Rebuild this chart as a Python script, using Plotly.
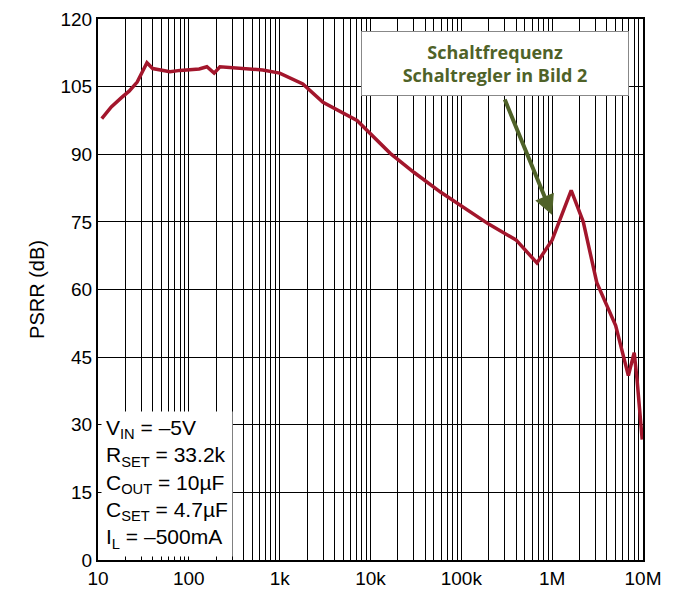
import plotly.graph_objects as go
import numpy as np

freq = [11, 14, 18, 22, 27, 34.6, 40, 50, 62, 80, 100, 130, 158, 190, 220, 300, 400, 650, 1000, 1800, 3000,
        7100, 16500, 30000, 60000, 100000, 200000, 400000, 680000, 1000000, 1620000, 2200000, 3100000,
        5000000, 6900000, 8000000, 8600000, 9800000]
psrr = [97.9, 100.5, 102.5, 104, 106, 110.3, 109, 108.7, 108.3, 108.6, 108.7, 108.9, 109.4, 108, 109.4, 109.2, 109.1, 108.7,
        108, 105.6, 101.5, 97.5, 90.2, 86, 81.5, 78.5, 74.5, 71, 65.9, 71, 82, 75, 61.5, 52, 40.9, 46, 40, 26.7]

xticks = [10, 100, 1e3, 1e4, 1e5, 1e6, 1e7]
xlabels = ["10", "100", "1k", "10k", "100k", "1M", "10M"]
yticks = [0, 15, 30, 45, 60, 75, 90, 105, 120]

fig = go.Figure()
fig.add_trace(go.Scatter(x=freq, y=psrr, mode="lines", line=dict(color="#a3162c", width=3.5), showlegend=False))

minor = [m * 10**d for d in range(1, 7) for m in range(2, 10)]
fig.update_xaxes(type="log", range=[1, 7], tickvals=xticks, ticktext=xlabels, automargin=False,
                 showgrid=True, gridcolor="black", gridwidth=1.3,
                 minor=dict(tickvals=minor, showgrid=True, gridcolor="black", gridwidth=1, ticks=""),
                 showline=True, linecolor="black", linewidth=2, mirror=True,
                 tickfont=dict(size=19, color="black"), ticks="")
fig.update_yaxes(range=[0, 120], tickvals=yticks, showgrid=True, gridcolor="black", gridwidth=1.3, automargin=False,
                 showline=True, linecolor="black", linewidth=2, mirror=True, zeroline=False,
                 tickfont=dict(size=19, color="black"), ticks="",
                 title=dict(text="PSRR (dB)", font=dict(size=20, color="black"), standoff=10))

fig.add_annotation(x=np.log10(1e6), y=76.5, xref="x", yref="y", ax=-48, ay=-117, axref="pixel", ayref="pixel",
                   text="", showarrow=True, arrowhead=2, arrowsize=1, arrowwidth=4, arrowcolor="#4f6228")

fig.add_annotation(x=(495-98)/545, y=1 - (60-15)/543, xref="paper", yref="paper", xanchor="center", yanchor="middle",
                   text="<b>Schaltfrequenz<br>Schaltregler in Bild 2</b>", showarrow=False,
                   font=dict(size=18, color="#4f6228", family="Open Sans"), bgcolor="white",
                   bordercolor="#888888", borderwidth=1, borderpad=8, width=250, align="center")

fig.add_annotation(x=0.005, y=0.005, xref="paper", yref="paper", xanchor="left", yanchor="bottom",
                   text="V<sub>IN</sub> = –5V<br>R<sub>SET</sub> = 33.2k<br>C<sub>OUT</sub> = 10µF<br>C<sub>SET</sub> = 4.7µF<br>I<sub>L</sub> = –500mA",
                   showarrow=False, align="left", font=dict(size=21, color="black"),
                   bgcolor="white", borderpad=4)

fig.update_layout(width=665, height=592, margin=dict(l=90, r=30, t=11, b=40),
                  plot_bgcolor="white", paper_bgcolor="white",
                  font=dict(family="Liberation Sans, Arial", color="black"))
fig.write_html("out.html")
